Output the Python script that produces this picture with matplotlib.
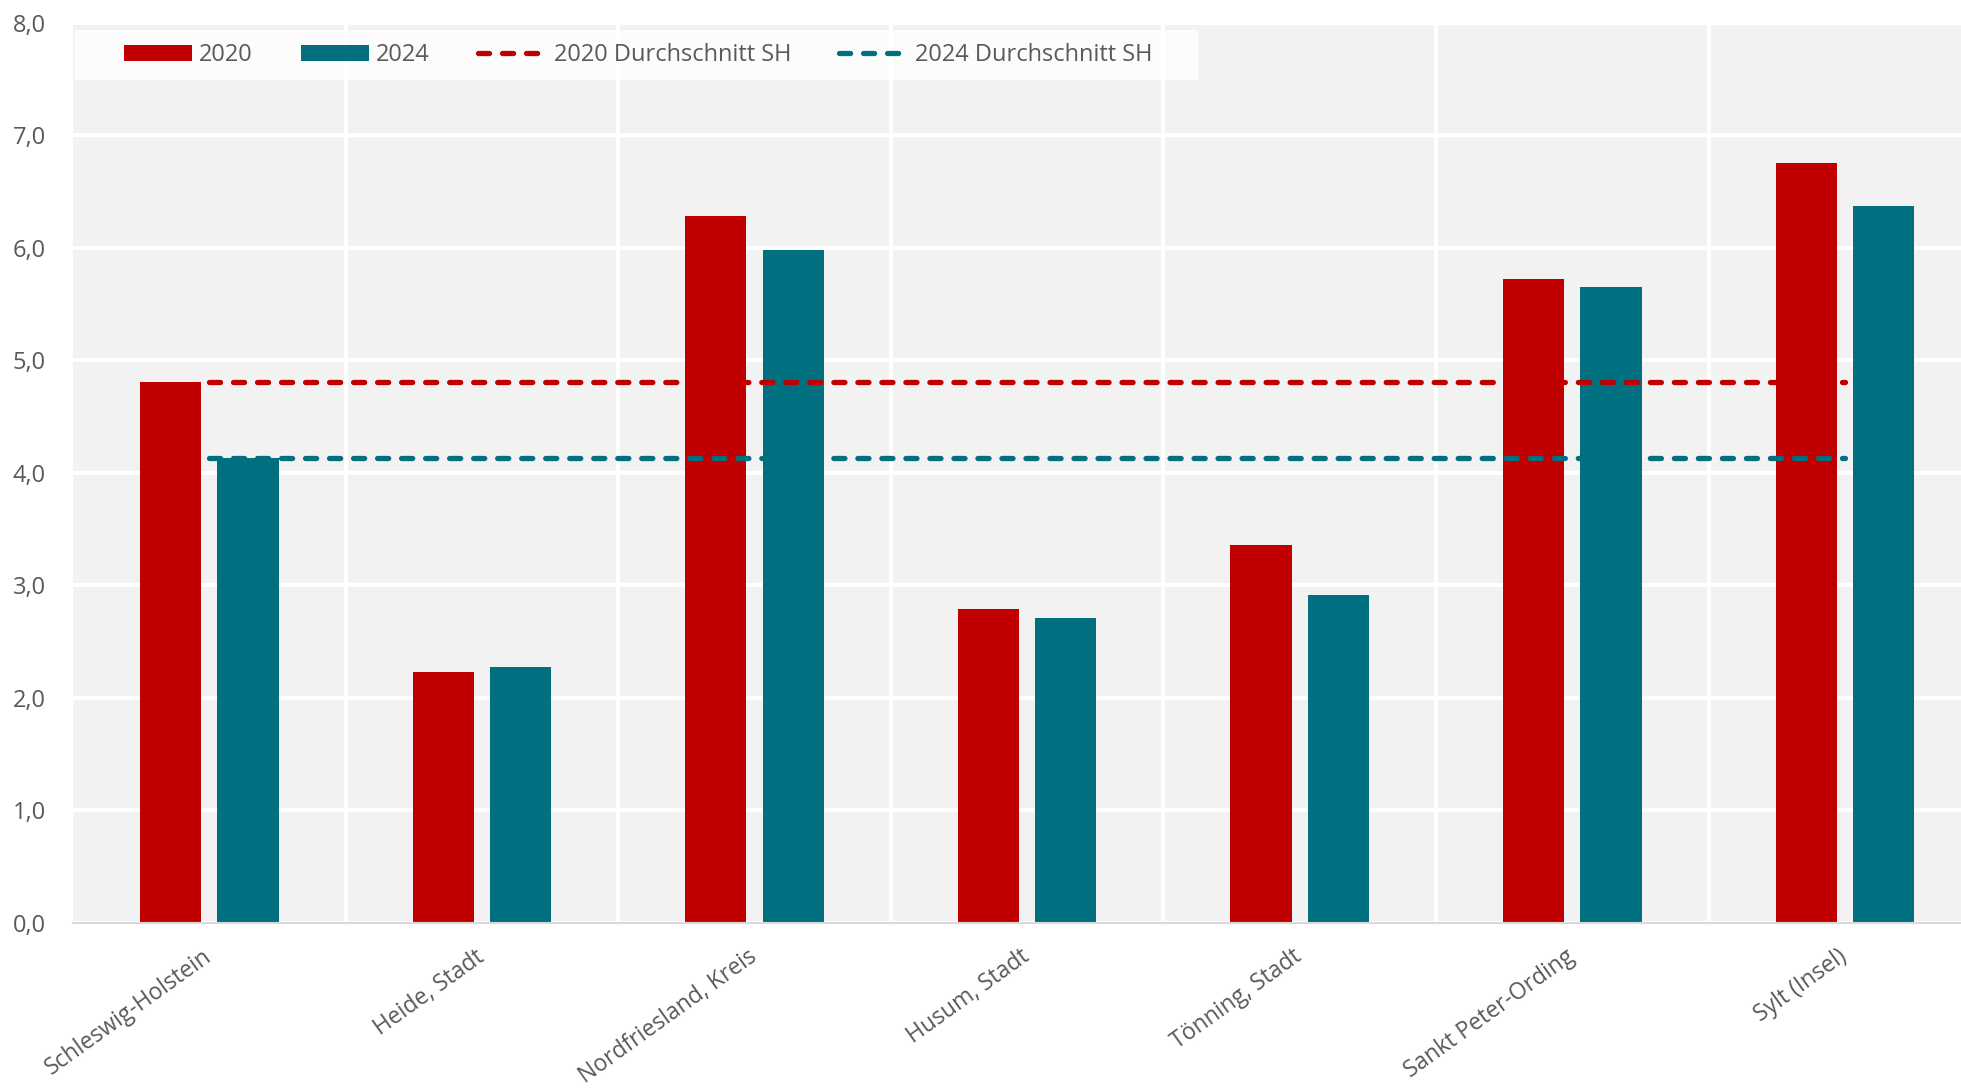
import matplotlib

matplotlib.use("Agg")
import matplotlib.pyplot as plt
import numpy as np
from matplotlib.lines import Line2D
from matplotlib.patches import Patch, Rectangle

REGIONS = [
    "Schleswig-Holstein", "Heide, Stadt", "Nordfriesland, Kreis", "Husum, Stadt",
    "Tönning, Stadt", "Sankt Peter-Ording", "Sylt (Insel)",
]
VALUES_2020 = [4.81, 2.23, 6.28, 2.79, 3.36, 5.72, 6.75]
VALUES_2024 = [4.13, 2.27, 5.98, 2.71, 2.91, 5.65, 6.37]
YTICKS = [0, 1, 2, 3, 4, 5, 6, 7, 8]

# state average = the Schleswig-Holstein row
AVG_2020 = VALUES_2020[0]
AVG_2024 = VALUES_2024[0]

RED = "#C00000"
TEAL = "#007080"
TEXT = "#595959"
FONT = ["Open Sans", "DejaVu Sans"]
FS = 17

W, H = 1961, 1088


def main():
    plt.rcParams["font.family"] = FONT
    fig, ax = plt.subplots(figsize=(W / 100, H / 100), dpi=100)
    fig.subplots_adjust(left=73 / W, right=1.0, bottom=1 - 922.7 / H, top=1 - 22.7 / H)

    x = np.arange(len(REGIONS))
    width, off = 0.224, 0.142
    ax.bar(x - off, VALUES_2020, width, color=RED, zorder=2)
    ax.bar(x + off, VALUES_2024, width, color=TEAL, zorder=2)

    dash = (0, (2.1, 2.45))
    ax.plot([x[0], x[-1]], [AVG_2020, AVG_2020], color=RED, lw=3.8,
            linestyle=dash, dash_capstyle="round", zorder=3)
    ax.plot([x[0], x[-1]], [AVG_2024, AVG_2024], color=TEAL, lw=3.8,
            linestyle=dash, dash_capstyle="round", zorder=3)

    ax.set_facecolor("#F2F2F2")
    ax.set_xlim(-0.5, -0.5 + (W - 73) / 272.6)
    ax.set_ylim(0, 8)
    ax.set_yticks(YTICKS)
    ax.set_yticklabels([f"{v:.1f}".replace(".", ",") for v in YTICKS])
    ax.set_xticks(x)
    ax.set_xticklabels(REGIONS, rotation=35.7, ha="right", va="center", rotation_mode="anchor")
    ax.set_xticks(np.arange(0.5, len(REGIONS) - 0.5), minor=True)

    ax.tick_params(axis="both", length=0, labelsize=FS, labelcolor=TEXT)
    ax.tick_params(axis="y", pad=19.5)
    ax.tick_params(axis="x", pad=23, labelsize=16.5)
    ax.tick_params(axis="x", which="minor", length=0)

    ax.grid(axis="y", color="white", lw=2.9, zorder=1)
    ax.grid(axis="x", which="minor", color="white", lw=2.9, zorder=1)
    ax.grid(axis="x", which="major", visible=False)
    ax.set_axisbelow(True)

    for side in ("top", "right", "left"):
        ax.spines[side].set_visible(False)
    ax.spines["bottom"].set_color("#D9D9D9")
    ax.spines["bottom"].set_linewidth(1.5)
    ax.spines["bottom"].set_zorder(2.5)

    # translucent legend panel in the top-left corner
    panel = Rectangle((75 / W, 1 - 80 / H), 1123 / W, 50 / H, transform=fig.transFigure,
                      facecolor="white", alpha=0.8, edgecolor="none", zorder=4)
    fig.add_artist(panel)

    handles = [
        Patch(facecolor=RED, label="2020"),
        Patch(facecolor=TEAL, label="2024"),
        Line2D([], [], color=RED, lw=3.8, linestyle=dash, dash_capstyle="round",
               label="2020 Durchschnitt SH"),
        Line2D([], [], color=TEAL, lw=3.8, linestyle=dash, dash_capstyle="round",
               label="2024 Durchschnitt SH"),
    ]
    leg = fig.legend(handles=handles, loc="center left", bbox_to_anchor=(124 / W, 1 - 55 / H),
                     ncol=4, frameon=False, fontsize=FS, handlelength=2.88, handleheight=0.65,
                     handletextpad=0.3, columnspacing=2.05, borderpad=0, borderaxespad=0)
    leg.set_zorder(5)
    for t in leg.get_texts():
        t.set_color(TEXT)

    fig.savefig("out.png", dpi=100, facecolor="white")


if __name__ == "__main__":
    main()
